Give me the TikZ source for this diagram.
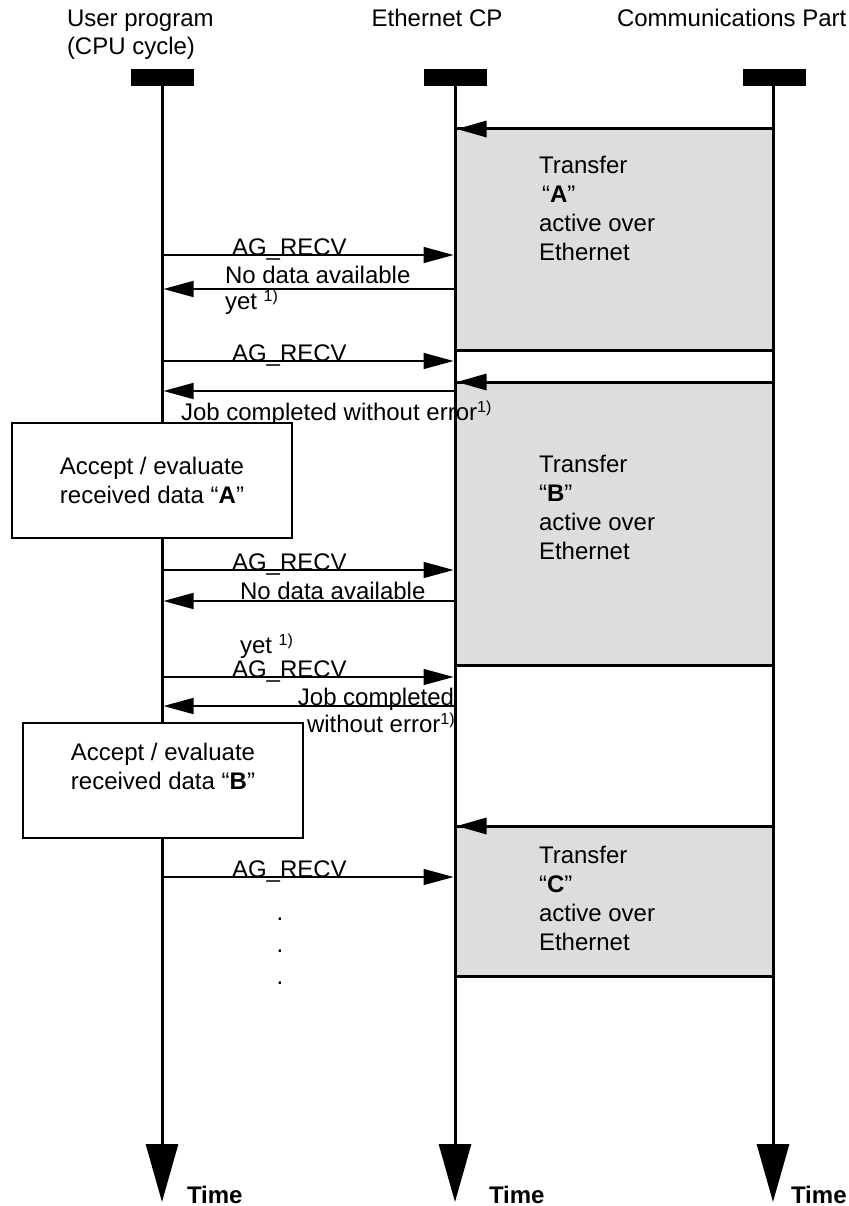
\documentclass[tikz,border=0pt]{standalone}
\usepackage{fontspec}
\setmainfont{Liberation Sans}
\usetikzlibrary{arrows.meta}
\definecolor{boxgray}{RGB}{221,221,221}
\newcommand{\fnmark}{\raisebox{8pt}{\fontsize{16}{16}\selectfont 1)}}
\begin{document}
\begin{tikzpicture}[x=1pt,y=-1pt,
  every node/.style={inner sep=0pt, outer sep=0pt, font=\fontsize{24}{29}\selectfont},
  bar/.style={fill=black, minimum width=63pt, minimum height=17pt},
  life/.style={line width=3pt, -{Triangle[length=58pt,width=32pt]}},
  busy/.style={fill=boxgray, draw=black, line width=3pt},
  part/.style={line width=3pt, -{Triangle[length=30pt,width=16pt]}},
  msg/.style={line width=1.5pt, -{Triangle[length=30pt,width=16pt]}},
  acc/.style={draw=black, fill=white, line width=1.5pt, align=left, minimum width=280pt, minimum height=115pt},
  lbl/.style={anchor=base west},
  txt/.style={anchor=north west, align=left}
]
\useasboundingbox (0,0) rectangle (848,1206);

% headers
\node[lbl] (hu1) at (67,27) {User program};
\node[lbl] (hu2) at (67,55) {(CPU cycle)};
\node[anchor=base] (hc) at (437,27) {Ethernet CP};
\node[lbl] (hp) at (617,27) {Communications Part};

% activity boxes of the partner
\draw[busy] (455,129) rectangle (773,350);
\draw[busy] (455,382) rectangle (773,665);
\draw[busy] (455,826) rectangle (773,976);

% lifelines
\node[bar] (ubar) at (162.5,77.5) {};
\node[bar] (cbar) at (455,77.5) {};
\node[bar] (pbar) at (774,78) {};
\coordinate (uend) at (162,1202);
\coordinate (cend) at (455,1202);
\coordinate (pend) at (773,1202);
\draw[life] (ubar.south -| uend) -- (uend);
\draw[life] (cbar.south -| cend) -- (cend);
\draw[life] (pbar.south -| pend) -- (pend);

% partner arrows
\foreach \n/\y in {1/129, 2/382, 3/826} {
  \coordinate (p\n) at (773,\y);
  \coordinate (q\n) at (456.5,\y);
}
\draw[part] (p1) -- (q1);
\draw[part] (p2) -- (q2);
\draw[part] (p3) -- (q3);

% messages
\foreach \n/\y in {1/255, 2/289, 3/361, 4/391, 5/570, 6/601, 7/677, 8/706, 9/877} {
  \coordinate (u\n) at (163.5,\y);
  \coordinate (c\n) at (453.5,\y);
}
\draw[msg] (u1) -- (c1);
\draw[msg] (c2) -- (u2);
\draw[msg] (u3) -- (c3);
\draw[msg] (c4) -- (u4);
\draw[msg] (u5) -- (c5);
\draw[msg] (c6) -- (u6);
\draw[msg] (u7) -- (c7);
\draw[msg] (c8) -- (u8);
\draw[msg] (u9) -- (c9);

\node[lbl] (m1) at (232,255) {AG\_RECV};
\node[lbl] (m2a) at (225,283) {No data available};
\node[lbl] (m2b) at (225,309) {yet \fnmark};
\node[lbl] (m3) at (232,361) {AG\_RECV};
\node[lbl] (m4) at (181,420) {Job completed without error\fnmark};
\node[lbl] (m5) at (232,570) {AG\_RECV};
\node[lbl] (m6a) at (240,599) {No data available};
\node[lbl] (m6b) at (240,653) {yet \fnmark};
\node[lbl] (m7) at (232,677) {AG\_RECV};
\node[anchor=base east] (m8a) at (454,705) {Job completed};
\node[lbl] (m8b) at (307,732) {without error\fnmark};
\node[lbl] (m9) at (232,877) {AG\_RECV};

% transfer texts
\node[txt] (tA) at (539,156) {Transfer\\\hspace*{3pt}“\textbf{A}”\\active over\\Ethernet};
\node[txt] (tB) at (539,455) {Transfer\\“\textbf{B}”\\active over\\Ethernet};
\node[txt] (tC) at (539,846) {Transfer\\“\textbf{C}”\\active over\\Ethernet};

% user program boxes
\node[acc, anchor=north west] (accA) at (12,423) {Accept / evaluate\\received data “\textbf{A}”};
\node[acc, anchor=north west] (accB) at (23,723) {Accept / evaluate\\received data “\textbf{B}”\\\mbox{}};

% continuation dots
\node[align=center, font=\fontsize{24}{32}\selectfont] (dots) at (280,951) {.\\.\\.};

% time labels
\node[lbl] (t1) at (187,1203) {\textbf{Time}};
\node[lbl] (t2) at (489,1203) {\textbf{Time}};
\node[lbl] (t3) at (791,1203) {\textbf{Time}};
\end{tikzpicture}
\end{document}
